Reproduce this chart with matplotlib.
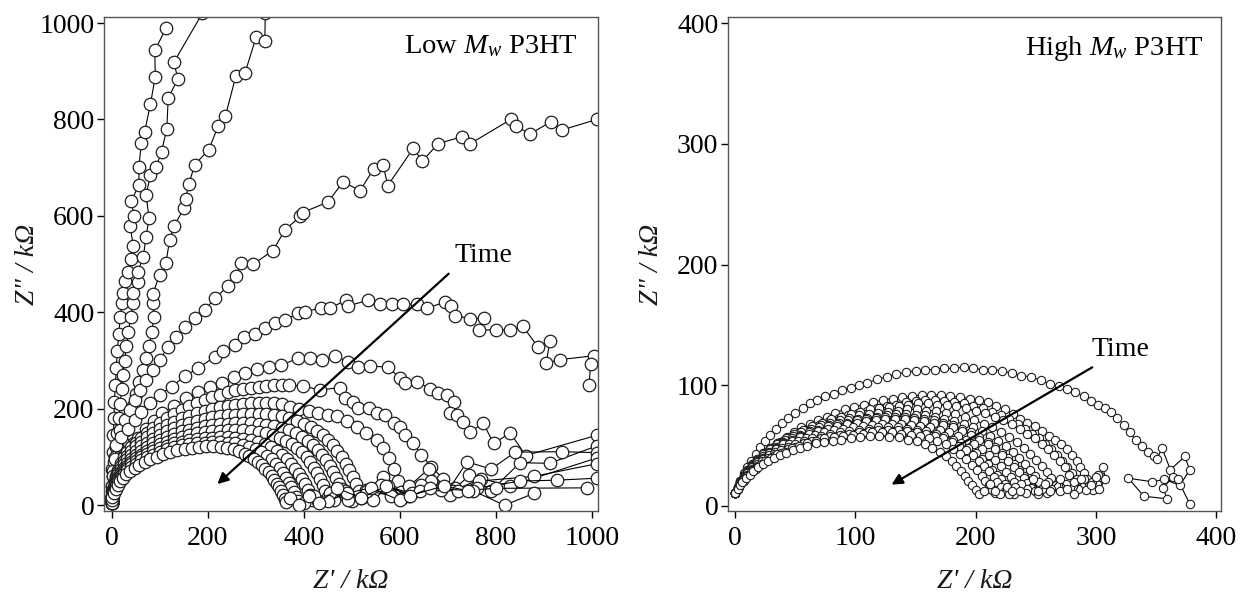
import numpy as np
import matplotlib
matplotlib.use('Agg')
import matplotlib.pyplot as plt

# --- Low Mw P3HT: (Z', Z'') points in kOhm, one list per spectrum
low_1 = [(0, 10), (1, 40), (2, 75), (3, 110), (4, 145), (5, 180), (6, 215), (8, 250), (10, 285),
         (12, 320), (15, 355), (18, 390), (22, 420), (24, 441), (29, 464), (34, 484), (40, 510),
         (45, 538), (39, 578), (47, 600), (41, 631), (57, 664), (57, 701), (62, 752), (69, 775),
         (81, 832), (91, 889), (90, 943), (114, 990)]
low_2 = [(0, 10), (2, 30), (4, 60), (6, 90), (9, 120), (12, 150), (15, 180), (18, 210), (21, 240),
         (24, 270), (27, 300), (31, 330), (35, 360), (40, 390), (45, 420), (45, 441), (55, 463),
         (55, 484), (66, 515), (72, 557), (78, 595), (72, 643), (81, 685), (93, 702), (104, 733),
         (115, 780), (118, 845), (138, 883), (130, 919), (189, 1020)]
low_3 = [(0, 10), (4, 30), (8, 55), (13, 80), (18, 105), (24, 130), (30, 155), (37, 180), (44, 205),
         (51, 230), (58, 255), (65, 280), (72, 305), (78, 330), (84, 360), (88, 390), (86, 420),
         (86, 439), (100, 477), (113, 502), (121, 550), (130, 579), (151, 616), (154, 636),
         (161, 666), (173, 706), (202, 737), (222, 786), (237, 807), (259, 891), (278, 897),
         (301, 971), (319, 962), (320, 1020)]
low_4 = [(0, 10), (2, 40), (4, 70), (7, 100), (11, 125), (17, 156), (27, 177), (38, 197), (48, 218),
         (59, 239), (72, 260), (86, 280), (100, 301), (118, 329), (135, 349), (152, 370), (173, 388),
         (194, 405), (215, 429), (243, 455), (260, 476), (270, 502), (295, 500), (336, 528),
         (361, 571), (393, 599), (398, 607), (451, 629), (482, 671), (517, 652), (546, 698),
         (565, 706), (575, 663), (628, 740), (647, 714), (680, 750), (729, 764), (747, 750),
         (831, 800), (842, 786), (871, 770), (914, 795), (937, 778), (1010, 800)]
low_5 = [(0, 10), (4, 60), (7, 95), (10, 125), (20, 142), (34, 159), (48, 177), (62, 194), (80, 211),
         (100, 229), (125, 246), (152, 267), (180, 284), (215, 308), (233, 319), (257, 332),
         (276, 348), (298, 356), (319, 367), (340, 377), (360, 384), (389, 398), (402, 401),
         (435, 409), (455, 409), (488, 425), (492, 413), (533, 425), (558, 417), (583, 417),
         (607, 417), (636, 417), (657, 409), (694, 421), (706, 413), (714, 393), (747, 387),
         (776, 388), (764, 363), (801, 364), (830, 364), (856, 371), (887, 329), (912, 340),
         (905, 295), (933, 302), (1005, 310), (997, 292), (994, 250)]
low_6 = [(0, 6), (2, 20), (5, 36), (9, 52), (14, 68), (20, 84), (28, 100), (38, 115), (47, 128),
         (56, 139), (72, 159), (89, 175), (105, 191), (130, 206), (155, 222), (179, 234), (204, 246),
         (229, 254), (254, 266), (278, 274), (303, 282), (328, 286), (352, 290), (389, 305),
         (413, 305), (438, 301), (465, 309), (493, 298), (514, 286), (538, 289), (576, 286),
         (601, 263), (611, 253), (635, 256), (663, 242), (680, 233), (698, 229), (712, 215),
         (705, 192), (719, 187), (732, 173), (746, 152), (774, 170), (795, 128), (830, 150),
         (862, 103), (1010, 145)]
low_7 = [(0, 5), (2, 20), (4, 34), (7, 48), (10, 61), (14, 74), (19, 87), (25, 99), (32, 110),
         (40, 120), (50, 130), (61, 140), (73, 150), (86, 160), (100, 170), (115, 180), (130, 189),
         (146, 197), (162, 205), (178, 212), (194, 218), (210, 224), (226, 229), (242, 234),
         (258, 238), (274, 241), (290, 244), (306, 246), (322, 248), (338, 249), (354, 250),
         (370, 249), (399, 247), (434, 239), (476, 244), (486, 222), (503, 215), (514, 201),
         (535, 201), (552, 191), (569, 187), (587, 170), (601, 163), (611, 146), (628, 128),
         (645, 105), (665, 80), (690, 55), (715, 35), (745, 62), (790, 30), (850, 88), (912, 87),
         (1010, 123)]
low_8 = [(0, 5), (2, 19), (4, 32), (7, 45), (10, 57), (14, 69), (19, 81), (25, 92), (32, 103),
         (40, 113), (50, 123), (61, 132), (73, 141), (86, 150), (100, 158), (115, 166), (130, 173),
         (146, 180), (162, 186), (178, 191), (194, 196), (210, 200), (226, 203), (242, 206),
         (258, 208), (274, 210), (290, 211), (306, 212), (322, 212), (338, 211), (354, 209),
         (372, 204), (390, 200), (410, 196), (430, 192), (450, 188), (469, 184), (490, 174),
         (510, 163), (530, 150), (552, 135), (566, 118), (578, 98), (588, 75), (596, 50),
         (603, 28), (620, 40), (660, 75), (700, 30), (740, 90), (790, 75), (840, 110), (937, 111),
         (1010, 109)]
low_9 = [(0, 5), (2, 18), (4, 30), (7, 42), (10, 53), (14, 64), (19, 75), (25, 85), (32, 95),
         (40, 104), (50, 113), (61, 122), (73, 130), (86, 138), (100, 146), (115, 153), (130, 160),
         (146, 166), (162, 171), (178, 175), (194, 179), (210, 182), (226, 185), (242, 187),
         (258, 188), (274, 189), (290, 190), (306, 190), (322, 189), (338, 187), (354, 184),
         (370, 180), (386, 175), (401, 169), (415, 162), (428, 154), (440, 145), (451, 135),
         (461, 124), (470, 112), (479, 99), (487, 86), (495, 72), (502, 58), (509, 44), (516, 30),
         (523, 18), (545, 10), (575, 40), (620, 20), (665, 50), (710, 30), (770, 55), (830, 40),
         (1010, 98)]
low_10 = [(0, 5), (2, 17), (4, 28), (7, 39), (10, 49), (14, 59), (19, 69), (25, 78), (32, 87),
          (40, 96), (50, 104), (61, 112), (73, 120), (86, 128), (100, 135), (115, 142), (130, 148),
          (146, 153), (162, 157), (178, 161), (194, 164), (210, 166), (226, 168), (242, 169),
          (258, 170), (274, 170), (290, 170), (306, 169), (322, 167), (338, 164), (354, 160),
          (369, 155), (383, 149), (396, 142), (408, 134), (419, 125), (429, 115), (438, 104),
          (446, 93), (454, 81), (461, 69), (468, 57), (474, 45), (480, 33), (486, 22), (500, 8),
          (530, 32), (565, 58), (605, 15), (645, 42), (705, 22), (765, 50), (880, 60), (1010, 86)]
low_11 = [(0, 5), (2, 16), (4, 26), (7, 36), (10, 46), (14, 55), (19, 64), (25, 73), (32, 81),
          (40, 89), (50, 97), (61, 105), (73, 112), (86, 119), (100, 126), (115, 132), (130, 137),
          (146, 142), (162, 146), (178, 149), (194, 151), (210, 153), (226, 154), (242, 155),
          (258, 155), (274, 155), (290, 154), (306, 152), (322, 149), (337, 145), (351, 140),
          (364, 134), (376, 127), (387, 119), (397, 110), (406, 100), (414, 89), (421, 78),
          (428, 66), (434, 54), (440, 42), (445, 30), (450, 18), (462, 10), (485, 30), (520, 15),
          (560, 42), (625, 25), (685, 32), (760, 35), (850, 50), (928, 52), (1010, 56)]
low_12 = [(0, 5), (2, 15), (4, 25), (7, 34), (10, 43), (14, 52), (19, 61), (25, 69), (32, 77),
          (40, 85), (50, 92), (61, 99), (73, 106), (86, 112), (100, 118), (115, 123), (130, 128),
          (146, 132), (162, 135), (178, 137), (194, 139), (210, 140), (226, 141), (242, 141),
          (258, 140), (274, 138), (290, 135), (305, 131), (319, 126), (332, 120), (344, 113),
          (355, 105), (365, 96), (374, 86), (382, 76), (390, 65), (397, 54), (403, 43), (409, 32),
          (414, 21), (418, 11), (430, 8), (455, 25), (492, 10), (532, 30), (582, 20), (642, 30),
          (722, 30), (800, 35), (990, 36)]
low_13 = [(0, 5), (2, 14), (4, 23), (7, 32), (10, 40), (14, 48), (19, 56), (25, 64), (32, 72),
          (40, 79), (50, 86), (61, 93), (73, 99), (86, 105), (100, 111), (115, 116), (130, 120),
          (146, 124), (162, 127), (178, 129), (194, 130), (210, 131), (226, 131), (242, 130),
          (258, 128), (273, 125), (287, 121), (300, 116), (312, 110), (323, 103), (333, 95),
          (342, 86), (350, 77), (357, 67), (363, 57), (369, 47), (374, 37), (379, 27), (384, 17),
          (388, 9), (400, 5), (422, 20), (450, 8), (490, 25), (540, 36), (600, 10), (662, 35),
          (752, 30), (818, 0), (880, 25)]
low_14 = [(0, 10), (2, 18), (5, 26), (9, 34), (13, 42), (18, 50), (24, 57), (31, 64), (39, 71),
          (48, 78), (58, 84), (69, 90), (81, 96), (94, 101), (108, 106), (122, 110), (137, 114),
          (152, 117), (167, 119), (182, 121), (197, 122), (212, 122), (227, 121), (241, 119),
          (254, 116), (266, 112), (277, 107), (287, 102), (296, 96), (305, 90), (313, 83),
          (320, 76), (327, 69), (333, 61), (339, 53), (344, 45), (349, 37), (353, 29), (357, 21),
          (361, 13), (364, 7), (372, 15), (390, 0), (412, 20), (432, 5), (470, 35), (520, 15),
          (572, 40), (622, 20), (692, 40), (742, 30)]

# --- High Mw P3HT
high_1 = [(0, 11), (2, 16), (4, 21), (7, 27), (10, 32), (13, 37), (17, 43), (21, 49), (25, 54),
          (29, 59), (34, 64), (39, 69), (44, 73), (50, 77), (56, 81), (62, 85), (68, 88), (75, 91),
          (82, 93), (89, 96), (96, 98), (103, 100), (110, 102), (118, 105), (126, 107), (134, 109),
          (142, 111), (150, 112), (158, 113), (166, 113), (174, 114), (182, 114), (190, 115),
          (198, 114), (206, 113), (214, 113), (222, 112), (230, 110), (238, 108), (246, 107),
          (254, 104), (262, 101), (269, 99), (276, 97), (283, 94), (290, 91), (296, 87), (302, 84),
          (308, 81), (313, 78), (318, 73), (323, 67), (328, 61), (333, 55), (338, 50), (343, 45),
          (348, 41), (351, 39), (355, 48), (362, 30), (374, 41), (378, 30), (370, 17), (357, 22),
          (347, 20), (327, 23), (340, 8), (359, 6), (356, 15), (364, 24), (368, 22), (378, 2)]
high_2 = [(0, 11), (2, 14), (4, 18), (7, 23), (10, 27), (14, 32), (18, 36), (22, 40), (27, 45),
          (32, 49), (37, 53), (43, 57), (49, 61), (55, 65), (62, 68), (69, 71), (76, 74), (83, 77),
          (91, 80), (99, 82), (107, 84), (115, 86), (123, 88), (131, 89), (139, 90), (147, 91),
          (155, 92), (163, 92), (171, 92), (179, 91), (187, 90), (195, 89), (203, 88), (210, 86),
          (217, 83), (224, 80), (231, 76), (237, 72), (243, 69), (249, 66), (255, 62), (261, 58),
          (266, 55), (271, 51), (276, 47), (280, 42), (284, 37), (287, 32), (290, 27), (293, 22),
          (296, 17), (298, 13), (301, 18), (304, 24), (306, 32), (308, 22), (303, 14)]
high_3 = [(0, 11), (2, 15), (4, 20), (7, 25), (10, 29), (14, 34), (18, 38), (23, 42), (28, 46),
          (34, 50), (40, 54), (47, 58), (54, 61), (62, 64), (70, 67), (78, 70), (86, 73), (94, 75),
          (102, 77), (110, 79), (118, 81), (126, 83), (134, 84), (142, 86), (150, 87), (158, 88),
          (166, 88), (174, 87), (182, 86), (190, 85), (198, 83), (206, 81), (214, 78), (221, 75),
          (228, 72), (235, 68), (241, 64), (247, 60), (253, 56), (258, 51), (263, 47), (268, 42),
          (272, 37), (276, 32), (280, 27), (284, 22), (288, 17), (292, 13), (297, 20), (302, 26)]
high_4 = [(0, 11), (2, 16), (4, 21), (7, 26), (10, 30), (14, 35), (18, 39), (23, 44), (29, 48),
          (35, 52), (42, 56), (49, 60), (56, 63), (64, 66), (72, 69), (80, 72), (88, 74), (96, 76),
          (104, 78), (112, 80), (120, 81), (128, 82), (136, 83), (144, 84), (152, 85), (160, 85),
          (168, 84), (176, 84), (184, 83), (192, 81), (200, 79), (208, 77), (216, 74), (223, 71),
          (230, 68), (237, 64), (243, 60), (249, 56), (255, 51), (260, 47), (265, 42), (270, 37),
          (274, 32), (278, 26), (282, 20), (285, 14), (290, 22), (296, 17), (300, 24)]
high_5 = [(0, 11), (2, 16), (4, 20), (7, 25), (10, 30), (14, 34), (18, 38), (23, 43), (29, 47),
          (35, 51), (41, 55), (48, 58), (55, 61), (63, 64), (71, 67), (79, 69), (87, 71), (95, 73),
          (103, 75), (111, 76), (119, 77), (127, 78), (135, 79), (143, 80), (151, 80), (159, 79),
          (167, 79), (175, 77), (183, 76), (191, 74), (199, 71), (207, 68), (214, 65), (221, 61),
          (228, 57), (234, 53), (240, 48), (245, 43), (250, 38), (255, 33), (259, 28), (263, 23),
          (267, 17), (270, 12), (275, 18), (282, 10), (288, 22)]
high_6 = [(0, 11), (2, 16), (4, 20), (7, 25), (10, 29), (14, 33), (18, 37), (23, 41), (28, 45),
          (34, 49), (40, 53), (47, 56), (54, 59), (62, 62), (70, 65), (78, 67), (86, 69), (94, 71),
          (102, 72), (110, 73), (118, 74), (126, 75), (134, 76), (142, 76), (150, 75), (158, 75),
          (166, 74), (174, 72), (182, 70), (190, 68), (198, 65), (205, 62), (212, 58), (219, 54),
          (225, 50), (231, 45), (236, 40), (241, 35), (245, 30), (249, 25), (253, 20), (256, 15),
          (259, 11), (263, 14), (270, 22), (276, 14)]
high_7 = [(0, 11), (2, 15), (4, 19), (7, 24), (10, 28), (14, 32), (18, 36), (23, 40), (28, 44),
          (34, 48), (40, 52), (47, 55), (54, 58), (61, 61), (69, 63), (77, 66), (85, 68), (93, 69),
          (101, 71), (109, 72), (117, 73), (125, 74), (133, 74), (141, 74), (149, 73), (157, 72),
          (165, 71), (173, 69), (181, 67), (189, 64), (196, 61), (203, 57), (210, 53), (216, 49),
          (222, 44), (227, 40), (232, 35), (236, 30), (240, 25), (244, 21), (247, 16), (250, 12),
          (255, 14), (260, 20)]
high_8 = [(0, 11), (2, 15), (4, 19), (7, 24), (10, 28), (14, 32), (18, 36), (23, 40), (28, 44),
          (34, 47), (40, 51), (47, 54), (54, 57), (61, 60), (69, 62), (77, 64), (85, 66), (93, 68),
          (101, 69), (109, 70), (117, 71), (125, 72), (133, 72), (141, 72), (149, 71), (157, 70),
          (165, 69), (173, 67), (181, 65), (189, 62), (196, 59), (203, 55), (210, 51), (216, 47),
          (222, 42), (227, 37), (232, 32), (236, 28), (240, 23), (243, 19), (246, 15), (249, 12),
          (252, 10), (258, 18), (262, 12)]
high_9 = [(0, 11), (2, 15), (4, 19), (7, 23), (10, 27), (14, 31), (18, 35), (23, 39), (28, 42),
          (33, 45), (39, 48), (45, 51), (52, 54), (59, 56), (66, 59), (74, 61), (82, 63), (90, 64),
          (98, 65), (106, 66), (114, 67), (122, 68), (130, 68), (138, 68), (146, 67), (154, 66),
          (162, 65), (170, 63), (178, 61), (185, 58), (192, 55), (199, 51), (205, 47), (211, 42),
          (216, 38), (221, 33), (225, 28), (229, 24), (232, 20), (235, 16), (238, 12), (243, 14),
          (248, 22), (252, 12)]
high_10 = [(0, 11), (2, 15), (4, 18), (7, 22), (10, 26), (14, 30), (18, 33), (22, 37), (27, 40),
           (32, 43), (38, 46), (44, 49), (50, 51), (57, 54), (64, 56), (71, 58), (79, 60), (87, 61),
           (95, 62), (103, 63), (111, 64), (119, 65), (127, 65), (135, 65), (143, 64), (151, 63),
           (159, 62), (167, 60), (174, 58), (181, 55), (188, 52), (194, 48), (200, 44), (205, 39),
           (210, 35), (214, 30), (218, 26), (221, 22), (224, 18), (227, 14), (229, 11), (232, 10),
           (238, 18), (242, 11)]
high_11 = [(0, 11), (2, 14), (4, 18), (7, 22), (10, 25), (14, 29), (18, 32), (22, 35), (27, 38),
           (32, 41), (38, 44), (44, 47), (50, 49), (57, 52), (64, 54), (71, 56), (79, 58), (87, 59),
           (95, 60), (103, 61), (111, 62), (119, 63), (127, 63), (135, 63), (143, 62), (151, 61),
           (159, 60), (166, 58), (173, 56), (180, 53), (186, 50), (192, 46), (198, 42), (203, 37),
           (207, 33), (211, 29), (215, 24), (218, 20), (221, 16), (224, 12), (228, 10), (233, 16),
           (237, 12)]
high_12 = [(0, 11), (2, 14), (4, 18), (7, 21), (10, 25), (13, 28), (17, 31), (21, 34), (25, 37),
           (30, 40), (35, 43), (41, 45), (47, 48), (53, 50), (60, 52), (67, 54), (74, 56), (82, 57),
           (90, 58), (98, 59), (106, 60), (114, 61), (122, 61), (130, 61), (138, 60), (146, 59),
           (154, 58), (161, 56), (168, 54), (175, 51), (181, 47), (187, 43), (192, 39), (197, 34),
           (201, 30), (205, 25), (208, 21), (211, 17), (214, 13), (216, 11), (220, 10), (226, 16),
           (230, 12)]
high_13 = [(0, 11), (2, 14), (4, 17), (6, 20), (9, 23), (12, 26), (15, 29), (19, 32), (23, 35),
           (27, 37), (32, 40), (37, 42), (42, 44), (48, 46), (54, 48), (60, 50), (67, 52), (74, 53),
           (81, 54), (88, 55), (96, 56), (104, 57), (112, 58), (120, 58), (128, 57), (136, 57),
           (144, 55), (151, 54), (158, 51), (164, 48), (170, 45), (175, 41), (180, 37), (184, 33),
           (188, 29), (191, 25), (194, 21), (197, 17), (200, 13), (203, 10), (207, 12), (212, 18),
           (216, 12)]

low_curves = [low_1, low_2, low_3, low_4, low_5, low_6, low_7, low_8, low_9, low_10, low_11,
              low_12, low_13, low_14]
high_curves = [high_1, high_2, high_3, high_4, high_5, high_6, high_7, high_8, high_9, high_10,
               high_11, high_12, high_13]

low_ticks = [0, 200, 400, 600, 800, 1000]
high_ticks = [0, 100, 200, 300, 400]

plt.rcParams['font.family'] = ['Liberation Serif', 'DejaVu Serif']
plt.rcParams['mathtext.fontset'] = 'custom'
plt.rcParams['mathtext.rm'] = 'Liberation Serif'
plt.rcParams['mathtext.it'] = 'Liberation Serif:italic'

fig = plt.figure(figsize=(12.43, 6), dpi=100)
ax1 = fig.add_axes([0.0837, 0.1485, 0.3974, 0.8228])
ax2 = fig.add_axes([0.5858, 0.1485, 0.3963, 0.8228])


def draw_curves(ax, curves, ms, mew):
    for pts in curves:
        x, y = np.array(pts, dtype=float).T
        ax.plot(x, y, color='black', lw=0.8, marker='o', ms=ms,
                mfc='white', mec='#1e1e1e', mew=mew)


def style_axes(ax, xlim, ylim, ticks):
    ax.set_xlim(xlim)
    ax.set_ylim(ylim)
    ax.set_xticks(ticks)
    ax.set_yticks(ticks)
    ax.tick_params(direction='out', length=5, width=1, labelsize=20,
                   top=False, right=False, colors='black')
    ax.tick_params(axis='y', pad=2)
    ax.tick_params(axis='x', pad=6)
    for s in ax.spines.values():
        s.set_linewidth(1.0)
        s.set_color('#555555')
    ax.set_xlabel("Z' / kΩ", fontsize=20, style='italic', color='#1a1a1a')
    ax.xaxis.set_label_coords(0.5, -0.118)
    ax.set_ylabel('Z" / kΩ', fontsize=20, style='italic', color='#1a1a1a')
    ax.yaxis.set_label_coords(-0.13, 0.5)


draw_curves(ax1, low_curves, 9, 0.9)
style_axes(ax1, (-15.6, 1012.5), (-11.8, 1012), low_ticks)
ax1.text(0.959, 0.941, 'Low $M_w$ P3HT', transform=ax1.transAxes,
         ha='right', va='center', fontsize=20.5)
ax1.annotate('', xy=(216, 40), xytext=(706, 484),
             arrowprops=dict(arrowstyle='-|>', color='black', lw=1.6, mutation_scale=16))
ax1.text(713, 518, 'Time', ha='left', va='center', fontsize=20)

draw_curves(ax2, high_curves, 6, 0.8)
style_axes(ax2, (-5.9, 403.9), (-4.1, 404.9), high_ticks)
ax2.text(0.966, 0.937, 'High $M_w$ P3HT', transform=ax2.transAxes,
         ha='right', va='center', fontsize=20.5)
ax2.annotate('', xy=(128, 16.5), xytext=(299, 116),
             arrowprops=dict(arrowstyle='-|>', color='black', lw=1.6, mutation_scale=16))
ax2.text(296, 130, 'Time', ha='left', va='center', fontsize=20)

fig.savefig('out.png', dpi=100)
